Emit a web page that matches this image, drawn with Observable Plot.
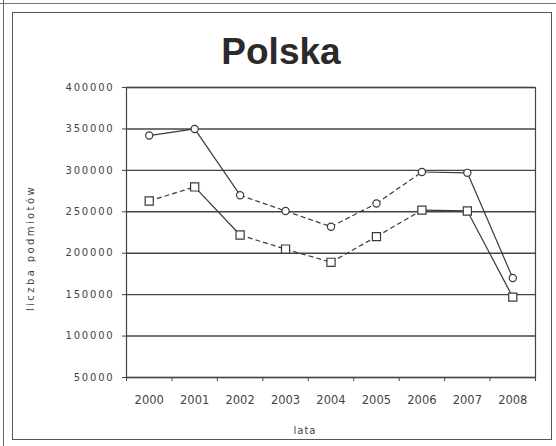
<!DOCTYPE html>
<html>
<head>
<meta charset="utf-8">
<script src="https://cdn.jsdelivr.net/npm/d3@7"></script>
<script src="https://cdn.jsdelivr.net/npm/@observablehq/plot@0.6"></script>
<style>
  html, body { margin: 0; padding: 0; background: #fff; }
  #wrap { position: relative; width: 556px; height: 446px; overflow: hidden; background: #fff; }
  #frame { position: absolute; left: 12px; top: 12px; width: 540px; height: 428px; border: 1.5px solid #555; box-sizing: border-box; }
  #edge { position: absolute; left: 3px; top: 0; width: 0; height: 446px; border-left: 1.5px solid #666; }
  #topedge { position: absolute; left: 0; top: 3px; width: 556px; height: 0; border-top: 1.5px solid #777; }
  #title { position: absolute; left: 0; width: 562px; top: 31px; text-align: center; font: bold 37px "Liberation Sans", Arial, sans-serif; color: #2a2a2a; }
  #ylab { position: absolute; left: 30px; top: 248px; transform: translate(-50%, -50%) rotate(-90deg); font: 10px "DejaVu Sans", sans-serif; letter-spacing: 2.4px; color: #444; white-space: nowrap; }
  #xlab { position: absolute; left: 305px; top: 425px; transform: translateX(-50%); font: 10px "DejaVu Sans", sans-serif; letter-spacing: 1px; color: #444; }
  svg { position: absolute; left: 0; top: 0; }
  g[aria-label="y-axis tick label"] text { letter-spacing: 1.8px; }
</style>
</head>
<body>
<div id="wrap">
  <div id="topedge"></div>
  <div id="edge"></div>
  <div id="frame"></div>
  <div id="title">Polska</div>
  <div id="ylab">liczba podmiotów</div>
  <div id="xlab">lata</div>
</div>
<script>
const years = [2000, 2001, 2002, 2003, 2004, 2005, 2006, 2007, 2008];
const circleSeries = [342000, 350000, 270000, 251000, 232000, 260000, 298000, 297000, 170000];
const squareSeries = [263000, 280000, 222000, 205000, 189000, 220000, 252000, 251000, 147000];
const dashedCircleFrom = [2002, 2003, 2004, 2005];
const dashedSquareFrom = [2000, 2002, 2003, 2004, 2005];
const yTicks = [50000, 100000, 150000, 200000, 250000, 300000, 350000, 400000];

function segments(values, dashedFrom) {
  const out = [];
  for (let i = 0; i < years.length - 1; i++) {
    out.push({x1: years[i], y1: values[i], x2: years[i + 1], y2: values[i + 1], dashed: dashedFrom.includes(years[i])});
  }
  return out;
}
const segs = segments(circleSeries, dashedCircleFrom).concat(segments(squareSeries, dashedSquareFrom));
const circles = years.map((y, i) => ({year: y, value: circleSeries[i]}));
const squares = years.map((y, i) => ({year: y, value: squareSeries[i]}));
const bounds = years.map(y => y - 0.5).concat([years[years.length - 1] + 0.5]);

const ink = "#3a3a3a";
const chart = Plot.plot({
  width: 556,
  height: 446,
  marginLeft: 126,
  marginRight: 21,
  marginTop: 87,
  marginBottom: 69,
  style: {background: "transparent", fontFamily: "DejaVu Sans, sans-serif", color: "#444"},
  x: {type: "linear", domain: [years[0] - 0.5, years[years.length - 1] + 0.5]},
  y: {domain: [yTicks[0], yTicks[yTicks.length - 1]]},
  marks: [
    Plot.gridY(yTicks, {stroke: "#444", strokeOpacity: 1, strokeWidth: 1.4}),
    Plot.frame({stroke: "#444", strokeWidth: 1.2}),
    Plot.axisY(yTicks, {tickFormat: d => String(d), tickSize: 4, tickPadding: 8, fontSize: 10, stroke: "#444", label: null}),
    Plot.axisX(bounds, {tickFormat: () => "", tickSize: 4, stroke: "#444", label: null}),
    Plot.axisX(years, {tickFormat: d => String(d), tickSize: 0, tickPadding: 18, fontSize: 11.5, label: null}),
    Plot.link(segs.filter(d => !d.dashed), {x1: "x1", y1: "y1", x2: "x2", y2: "y2", stroke: ink, strokeWidth: 1.2}),
    Plot.link(segs.filter(d => d.dashed), {x1: "x1", y1: "y1", x2: "x2", y2: "y2", stroke: ink, strokeWidth: 1.2, strokeDasharray: "5,3"}),
    Plot.dot(circles, {x: "year", y: "value", symbol: "circle", r: 3.6, fill: "white", stroke: ink, strokeWidth: 1.2}),
    Plot.dot(squares, {x: "year", y: "value", symbol: "square", r: 4.6, fill: "white", stroke: ink, strokeWidth: 1.2})
  ]
});
document.getElementById("wrap").appendChild(chart);
</script>
</body>
</html>
